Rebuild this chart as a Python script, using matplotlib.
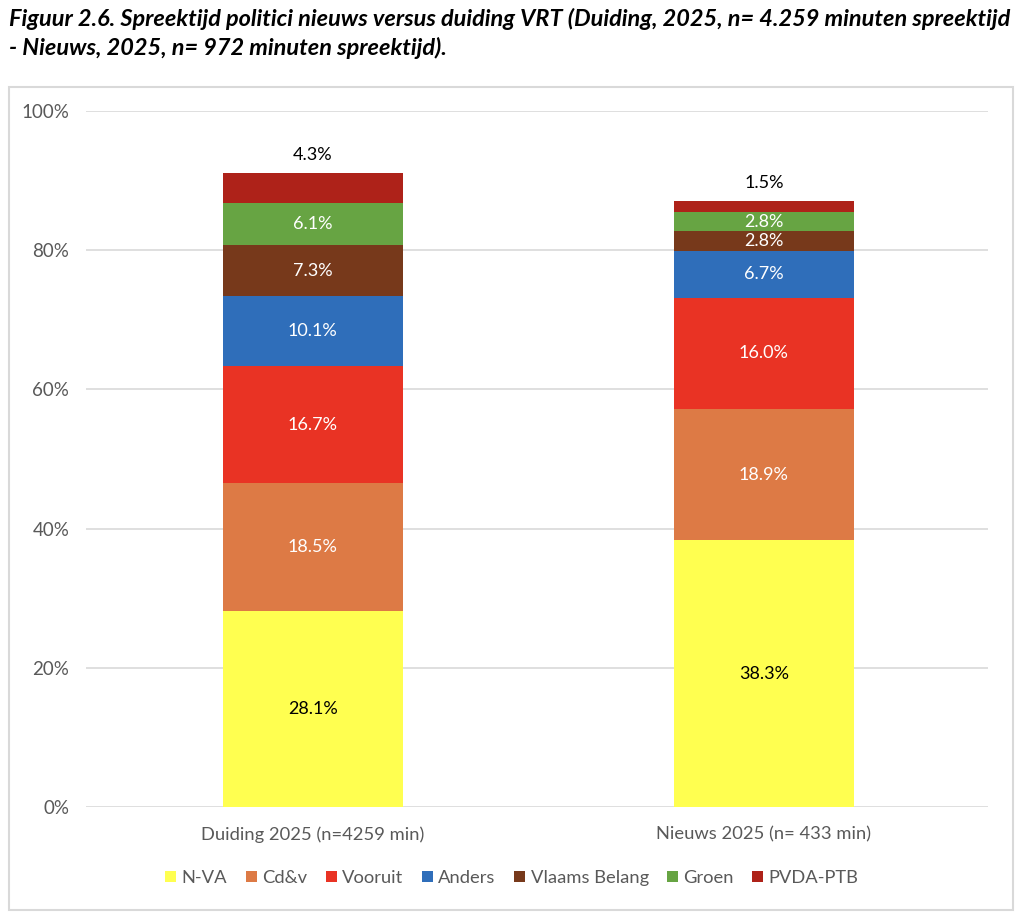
import matplotlib
matplotlib.use("Agg")
import matplotlib.pyplot as plt
from matplotlib.patches import Rectangle
import numpy as np

categories = ["Duiding 2025 (n=4259 min)", "Nieuws 2025 (n= 433 min)"]
parties = ["N-VA", "Cd&v", "Vooruit", "Anders", "Vlaams Belang", "Groen", "PVDA-PTB"]
duiding = [28.1, 18.5, 16.7, 10.1, 7.3, 6.1, 4.3]
nieuws = [38.3, 18.9, 16.0, 6.7, 2.8, 2.8, 1.5]
colors = ["#FFFF50", "#DD7A45", "#E93324", "#2F6EBA", "#77391B", "#67A443", "#AE2219"]
label_colors = ["black", "white", "white", "white", "white", "white", "black"]
yticks = [0, 20, 40, 60, 80, 100]
title = ("Figuur 2.6. Spreektijd politici nieuws versus duiding VRT (Duiding, 2025, n= 4.259 minuten spreektijd\n"
         "- Nieuws, 2025, n= 972 minuten spreektijd).")

FONT = "Lato"
W, H = 1024, 923
fig = plt.figure(figsize=(W / 100, H / 100), dpi=100)
ax = fig.add_axes([86 / W, 1 - 807 / H, (988 - 86) / W, (807 - 111) / H])

values = np.array([duiding, nieuws])
x = np.arange(len(categories))
bottom = np.zeros(len(categories))
for i, p in enumerate(parties):
    v = values[:, i]
    ax.bar(x, v, width=0.4, bottom=bottom, color=colors[i], label=p, zorder=2)
    for j in range(len(categories)):
        if i == len(parties) - 1:
            ax.text(x[j], bottom[j] + v[j] + 1.5, f"{v[j]:.1f}%", ha="center", va="bottom",
                    color=label_colors[i], fontsize=13, family=FONT)
        else:
            ax.text(x[j], bottom[j] + v[j] / 2, f"{v[j]:.1f}%", ha="center", va="center",
                    color=label_colors[i], fontsize=13, family=FONT)
    bottom += v

ax.set_xlim(-0.503, 1.497)
ax.set_ylim(0, 100)
ax.set_yticks(yticks)
ax.set_yticklabels([f"{t}%" for t in yticks], family=FONT, fontsize=13.5, color="#595959")
ax.set_xticks(x)
ax.set_xticklabels(categories, family=FONT, fontsize=13.2, color="#595959")
ax.tick_params(length=0)
ax.tick_params(axis="x", pad=14)
ax.tick_params(axis="y", pad=12)
ax.grid(axis="y", color="#d9d9d9", linewidth=1.2, zorder=0)
for s in ax.spines.values():
    s.set_visible(False)

leg = fig.legend(loc="center", bbox_to_anchor=(0.5, 1 - 878 / H), ncol=7, frameon=False,
                 prop={"family": FONT, "size": 13.2}, handlelength=0.6, handleheight=0.6,
                 handletextpad=0.3, columnspacing=1.0)
for t in leg.get_texts():
    t.set_color("#595959")

fig.patches.append(Rectangle((8.5 / W, 1 - 910 / H), (1013 - 8.5) / W, (910 - 87) / H,
                             transform=fig.transFigure, fill=False, edgecolor="#d9d9d9", linewidth=1.5))

fig.text(9 / W, 1 - 8 / H, title, ha="left", va="top", family=FONT, fontsize=16.9,
         fontweight="bold", style="italic", linespacing=1.4)

fig.savefig("out.png", dpi=100)
